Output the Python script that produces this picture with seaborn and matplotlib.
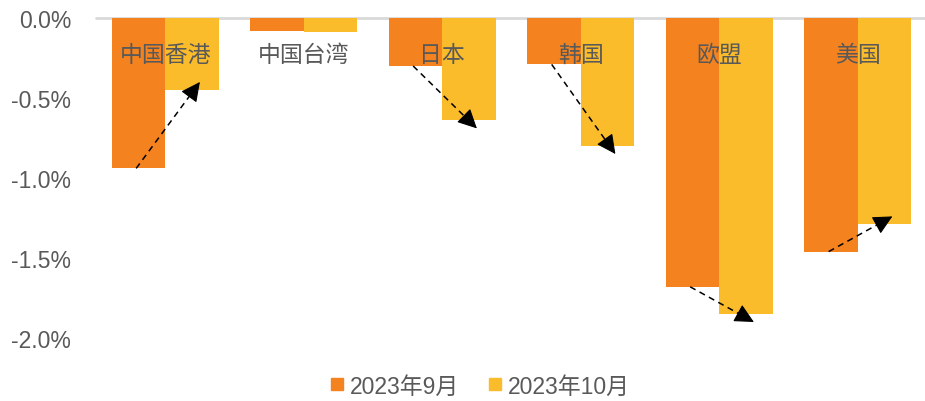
import numpy as np
import pandas as pd
import matplotlib
matplotlib.use("Agg")
import matplotlib.pyplot as plt
from matplotlib.lines import Line2D
from matplotlib.ticker import FuncFormatter
import seaborn as sns

regions = ["中国香港", "中国台湾", "日本", "韩国", "欧盟", "美国"]
series_names = ["2023年9月", "2023年10月"]
sep_values = [-0.94, -0.08, -0.30, -0.29, -1.68, -1.46]
oct_values = [-0.45, -0.09, -0.64, -0.80, -1.85, -1.29]
arrow_regions = ["中国香港", "日本", "韩国", "欧盟", "美国"]
y_ticks = [0.0, -0.5, -1.0, -1.5, -2.0]

colors = ["#F4831F", "#FBBC2B"]
text_color = "#595959"

sns.set_theme(style="white")
plt.rcParams["font.family"] = ["Liberation Sans", "Noto Sans CJK SC", "DejaVu Sans"]
plt.rcParams["axes.unicode_minus"] = False

df = pd.DataFrame({
    "region": regions * 2,
    "month": [series_names[0]] * len(regions) + [series_names[1]] * len(regions),
    "value": sep_values + oct_values,
})

fig = plt.figure(figsize=(9.25, 4.02), dpi=100)
ax = fig.add_axes([96 / 925, 63 / 402, 831 / 925, 320 / 402])

sns.barplot(data=df, x="region", y="value", hue="month", order=regions,
            hue_order=series_names, palette=colors, width=0.77, dodge=True,
            saturation=1, edgecolor="none", ax=ax, legend=False, errorbar=None)

ax.set_xlim(-0.5, len(regions) - 0.5)
ax.set_ylim(-2.0, 0.0)
ax.axhline(0, color="#D9D9D9", lw=2, zorder=0.5, clip_on=False)

for s in ax.spines.values():
    s.set_visible(False)

ax.set_yticks(y_ticks)
ax.yaxis.set_major_formatter(FuncFormatter(lambda v, p: f"{v:.1f}%"))
ax.tick_params(axis="y", length=0, pad=18, labelsize=16.5, labelcolor=text_color)
ax.set_xticks([])
ax.set_xlabel("")
ax.set_ylabel("")

for i, r in enumerate(regions):
    ax.text(i, -0.225, r, ha="center", va="center", fontsize=16.5,
            color=text_color, zorder=5)

for r in arrow_regions:
    i = regions.index(r)
    s, o = sep_values[i], oct_values[i]
    d = np.sign(o - s)
    x0, y0 = i - 0.21, s
    x1, y1 = i + 0.25, o + 0.05 * d
    # dashed shaft
    ax.plot([x0, x0 + 0.97 * (x1 - x0)], [y0, y0 + 0.97 * (y1 - y0)],
            color="black", lw=1.1, linestyle=(0, (4, 3)), zorder=6)
    # solid filled head
    ax.annotate("", xy=(x1, y1), xytext=(x0 + 0.9 * (x1 - x0), y0 + 0.9 * (y1 - y0)),
                arrowprops=dict(arrowstyle="-|>,head_length=1.0,head_width=0.5",
                                mutation_scale=12, color="black", lw=0.8,
                                shrinkA=0, shrinkB=0),
                zorder=7)

handles = [Line2D([0], [0], marker="s", linestyle="none", markersize=9,
                  markerfacecolor=c, markeredgecolor=c) for c in colors]
fig.legend(handles, series_names, loc="center", bbox_to_anchor=(480 / 925, 1 - 387 / 402),
           ncol=2, frameon=False, fontsize=16.5, handlelength=0.6, handletextpad=0.25,
           columnspacing=1.3, labelcolor=text_color)

fig.savefig("out.png", dpi=100)
